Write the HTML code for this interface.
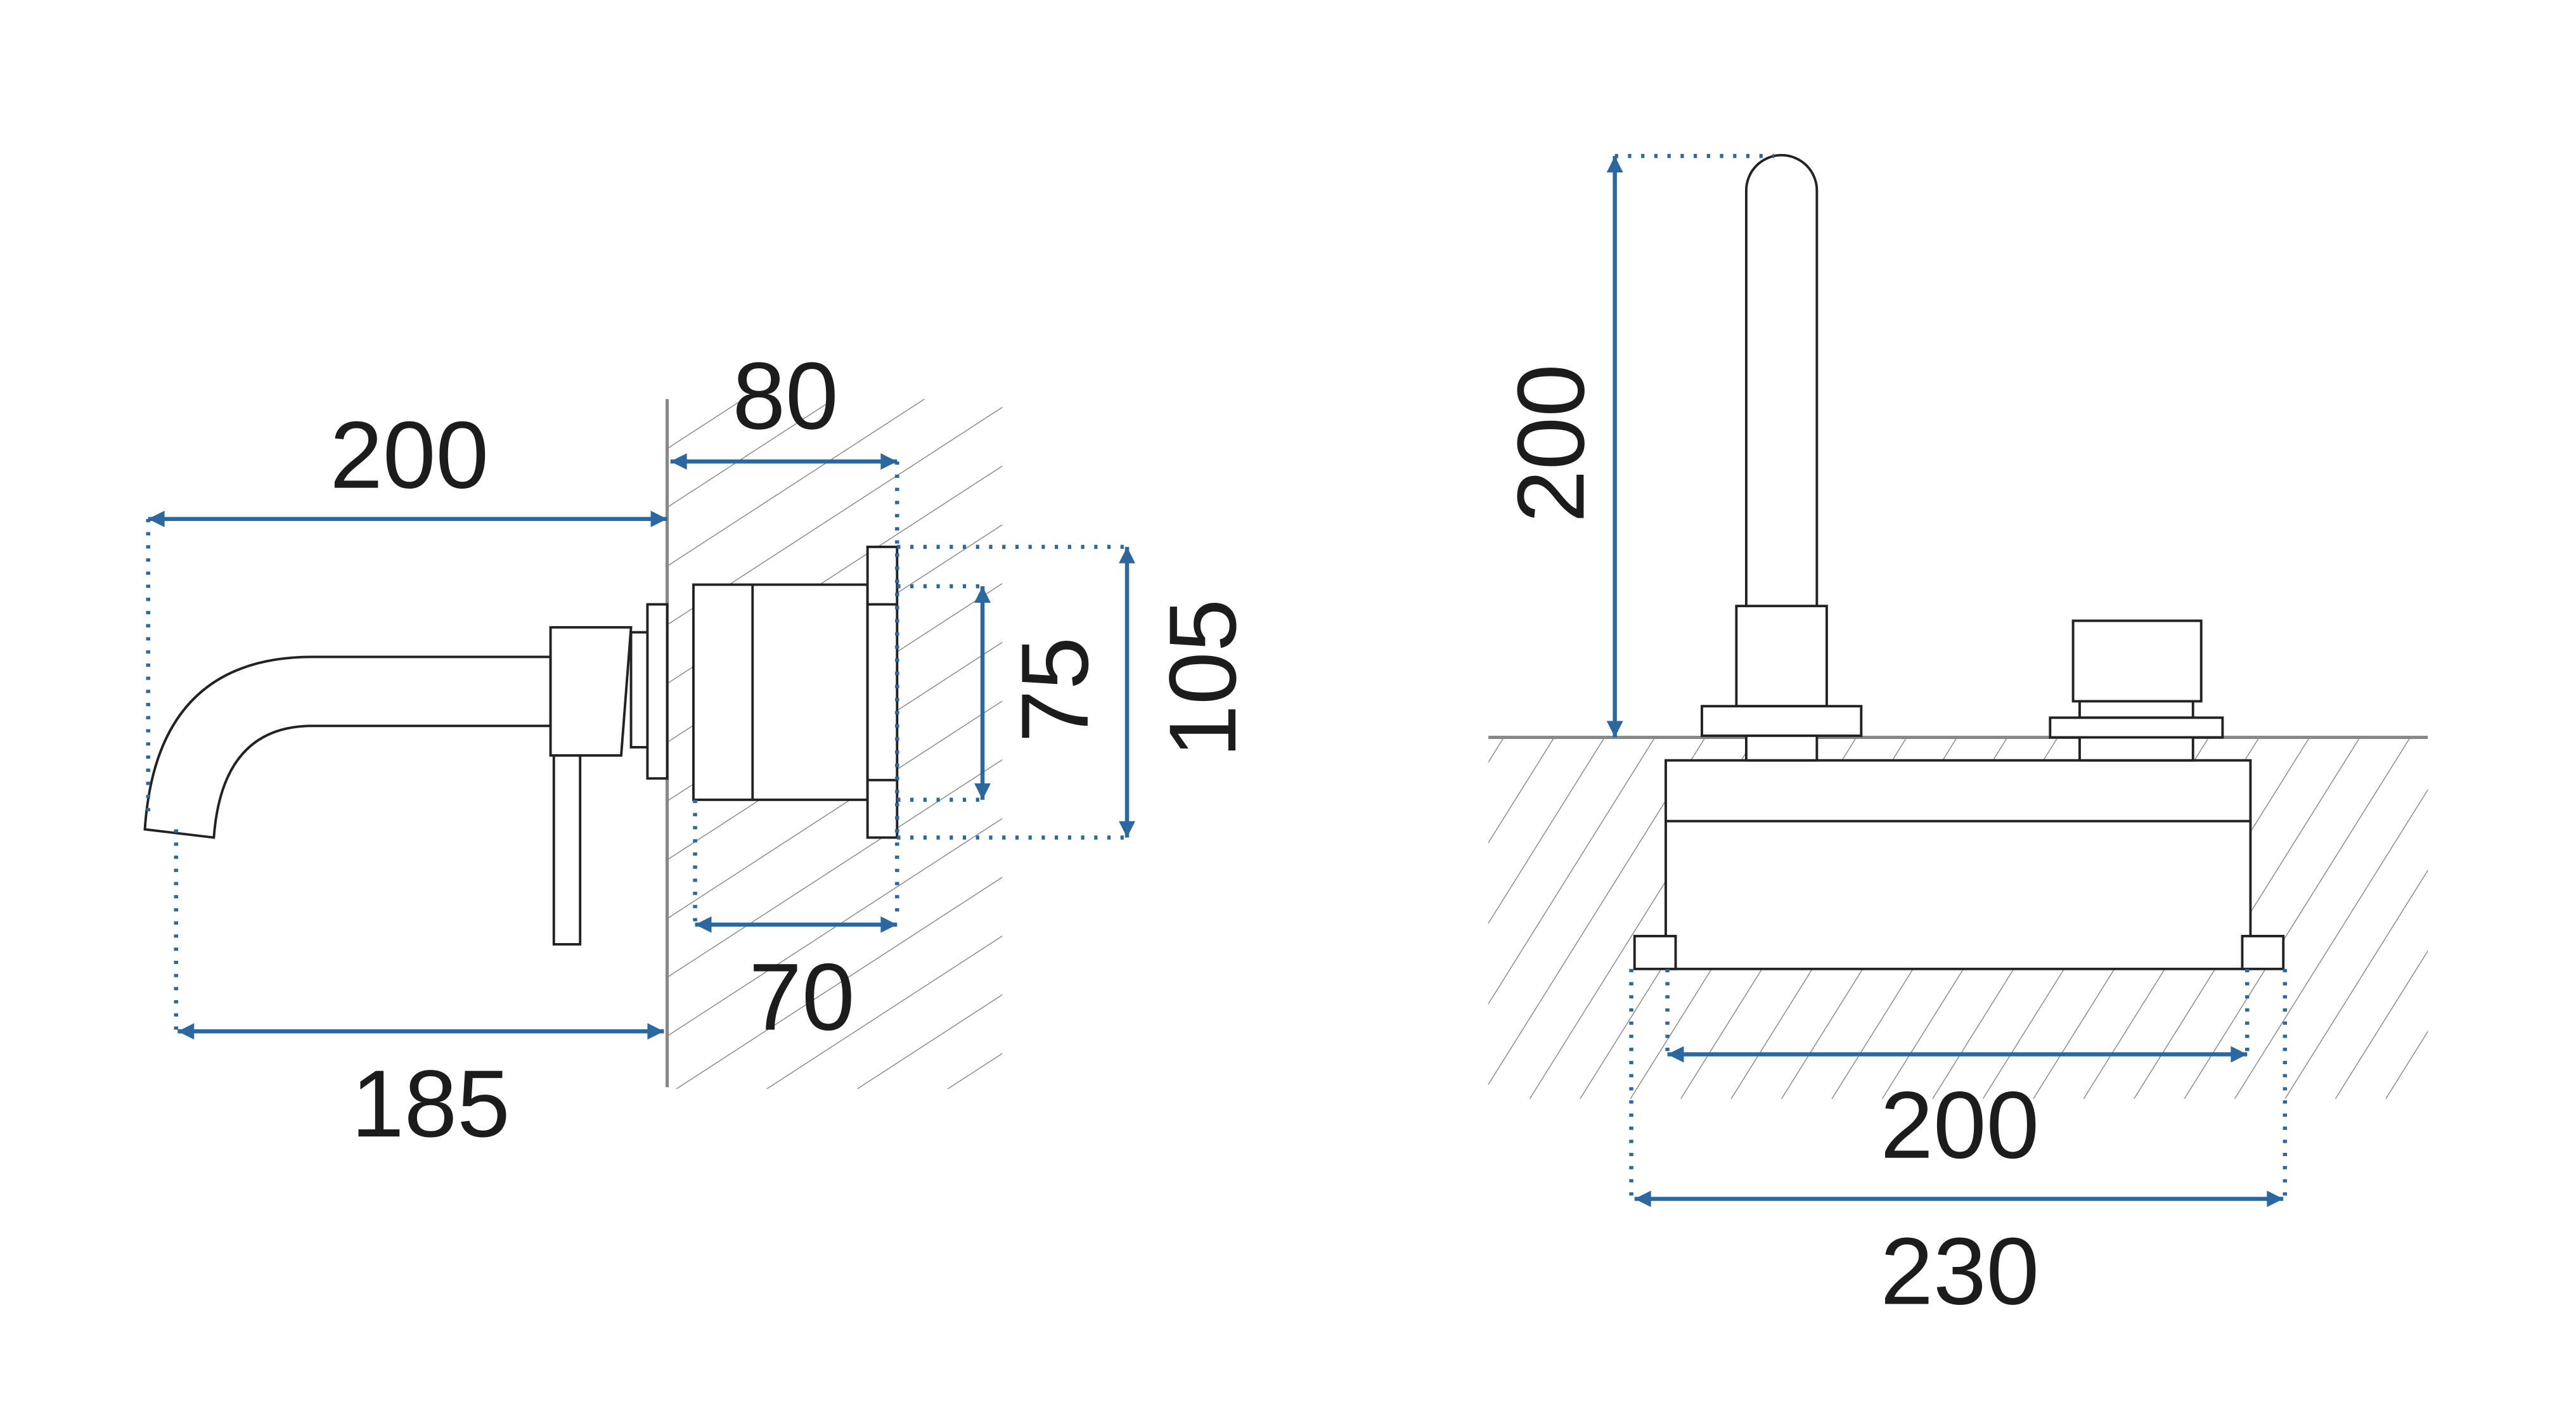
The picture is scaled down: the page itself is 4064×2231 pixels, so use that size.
<!DOCTYPE html>
<html><head><meta charset="utf-8"><style>
html,body{margin:0;padding:0;background:#fff;}
svg{display:block;}
text{font-family:"Liberation Sans",sans-serif;fill:#1c1c1c;}
</style></head><body>
<svg width="4064" height="2231" viewBox="0 0 1568 861" xmlns="http://www.w3.org/2000/svg">
<defs>
<marker id="a" viewBox="0 0 10 10" refX="10" refY="5" markerWidth="14" markerHeight="10" markerUnits="userSpaceOnUse" orient="auto-start-reverse">
<path d="M0,0 L10,5 L0,10 z" fill="#2b68a0"/></marker>
<pattern id="h1" width="30" height="30" patternUnits="userSpaceOnUse" patternTransform="rotate(-33)">
<line x1="0" y1="0" x2="30" y2="0" stroke="#777" stroke-width="1"/></pattern>
<pattern id="h2" width="26" height="26" patternUnits="userSpaceOnUse" patternTransform="rotate(-58)">
<line x1="0" y1="0" x2="26" y2="0" stroke="#777" stroke-width="1"/></pattern>
</defs>
<rect width="1568" height="861" fill="#fff"/>

<rect x="406" y="243" width="204" height="420" fill="url(#h1)"/>
<line x1="406" y1="243" x2="406" y2="662" stroke="#888" stroke-width="2"/>

<g fill="#fff" stroke="#222" stroke-width="1.5">
<path d="M335,400 L190,400 Q95,400 88,505 L130,510 Q135,442 190,442 L335,442 Z"/>
<path d="M335,382 L384,382 L378,460 L335,460 Z"/>
<rect x="337" y="460" width="16" height="115"/>
<rect x="384" y="385" width="10" height="70"/>
<rect x="394" y="368" width="12" height="106"/>
<rect x="422" y="356" width="106" height="131"/>
<line x1="458" y1="356" x2="458" y2="487"/>
<rect x="528" y="333" width="18" height="177"/>
<line x1="528" y1="368" x2="546" y2="368"/>
<line x1="528" y1="475" x2="546" y2="475"/>
</g>

<g stroke="#2b68a0" stroke-width="2.5" fill="none" stroke-dasharray="2 6">
<line x1="90" y1="316" x2="90" y2="500"/>
<line x1="107" y1="505" x2="107" y2="628"/>
<line x1="546" y1="281" x2="546" y2="560"/>
<line x1="423" y1="487" x2="423" y2="563"/>
<line x1="546" y1="357" x2="598" y2="357"/>
<line x1="546" y1="487" x2="598" y2="487"/>
<line x1="546" y1="333" x2="686" y2="333"/>
<line x1="546" y1="510" x2="686" y2="510"/>
</g>
<g stroke="#2b68a0" stroke-width="2.5" marker-start="url(#a)" marker-end="url(#a)">
<line x1="90" y1="316" x2="406" y2="316"/>
<line x1="408" y1="281" x2="546" y2="281"/>
<line x1="108" y1="628" x2="404" y2="628"/>
<line x1="423" y1="563" x2="546" y2="563"/>
<line x1="598" y1="357" x2="598" y2="487"/>
<line x1="686" y1="333" x2="686" y2="510"/>
</g>
<g font-size="58" text-anchor="middle">
<text x="249" y="297">200</text>
<text x="478" y="261">80</text>
<text x="262" y="692">185</text>
<text x="488" y="627">70</text>
<text transform="translate(662,420) rotate(-90)">75</text>
<text transform="translate(752,413) rotate(-90)">105</text>
</g>

<rect x="906" y="449" width="572" height="220" fill="url(#h2)"/>
<line x1="906" y1="449" x2="1478" y2="449" stroke="#888" stroke-width="2"/>
<g fill="#fff" stroke="#222" stroke-width="1.5">
<rect x="1014" y="463" width="356" height="127"/>
<line x1="1014" y1="500" x2="1370" y2="500"/>
<rect x="995" y="570" width="25" height="20"/>
<rect x="1365" y="570" width="25" height="20"/>
<path d="M1063,370 L1063,116 A21.5,21.5 0 0 1 1106,116 L1106,370"/>
<rect x="1057" y="369" width="55" height="61"/>
<rect x="1036" y="430" width="97" height="18"/>
<rect x="1063" y="448" width="43" height="15"/>
<rect x="1262" y="378" width="78" height="49"/>
<rect x="1266" y="427" width="69" height="10"/>
<rect x="1248" y="437" width="105" height="12"/>
<rect x="1266" y="449" width="69" height="14"/>
</g>
<g stroke="#2b68a0" stroke-width="2.5" fill="none" stroke-dasharray="2 6">
<line x1="983" y1="95" x2="1080" y2="95"/>
<line x1="993" y1="590" x2="993" y2="730"/>
<line x1="1391" y1="590" x2="1391" y2="730"/>
<line x1="1015" y1="590" x2="1015" y2="642"/>
<line x1="1368" y1="590" x2="1368" y2="642"/>
</g>
<g stroke="#2b68a0" stroke-width="2.5" marker-start="url(#a)" marker-end="url(#a)">
<line x1="983" y1="95" x2="983" y2="449"/>
<line x1="1015" y1="642" x2="1368" y2="642"/>
<line x1="995" y1="730" x2="1390" y2="730"/>
</g>
<g font-size="58" text-anchor="middle">
<text transform="translate(964,270) rotate(-90)">200</text>
<text x="1193" y="705">200</text>
<text x="1193" y="794">230</text>
</g>
</svg>
</body></html>
